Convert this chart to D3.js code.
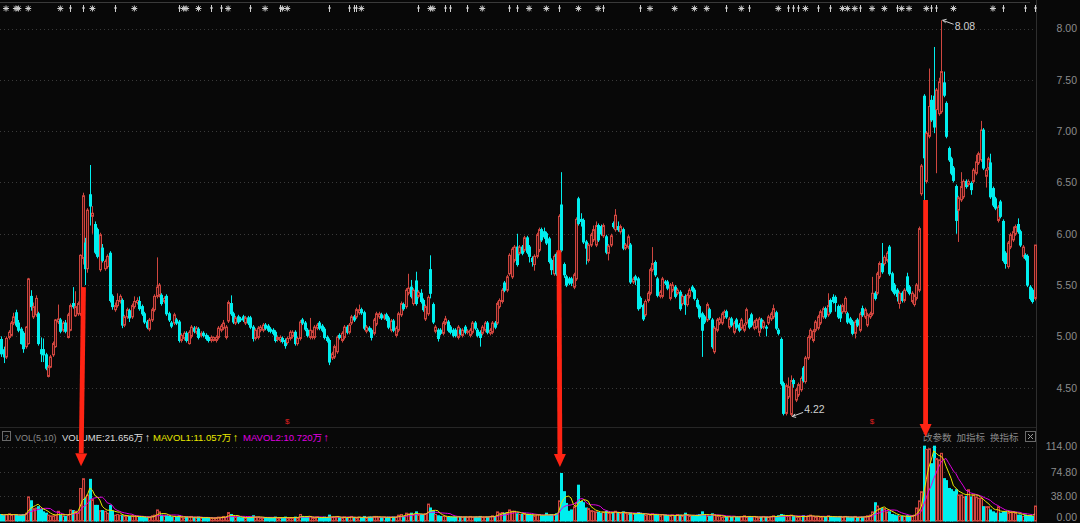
<!DOCTYPE html>
<html><head><meta charset="utf-8">
<script src="https://cdn.jsdelivr.net/npm/d3@7"></script>
<style>
html,body{margin:0;padding:0;background:#080808;overflow:hidden;}
svg{display:block;}
</style></head><body>
<svg id="c" width="1080" height="523"></svg>
<script>
// ---------------- data ----------------
const opens = [
4.97,4.87,4.80,4.99,5.01,5.13,5.23,5.13,5.07,5.03,
4.90,4.93,5.39,5.19,5.21,5.22,4.87,4.87,4.82,4.61,
4.70,4.82,4.90,5.14,5.16,5.06,5.13,4.99,5.06,5.32,
5.20,5.22,5.22,5.76,5.91,5.66,6.38,6.17,6.09,6.04,
5.65,5.86,5.66,5.68,5.81,5.39,5.26,5.30,5.34,5.35,
5.11,5.19,5.25,5.19,5.29,5.33,
5.34,5.29,5.22,5.14,5.07,
5.16,5.26,5.39,5.40,5.40,5.34,5.39,5.22,5.13,5.13,
5.16,5.14,4.96,4.98,5.03,4.93,5.00,5.08,5.04,5.07,
5.01,5.03,5.01,
4.99,4.96,4.96,4.96,4.99,5.06,5.08,4.99,
5.15,5.32,5.22,5.13,5.19,5.17,5.19,5.13,5.18,5.18,
5.09,4.98,4.99,5.06,5.06,5.11,5.10,
5.07,5.06,5.04,4.97,
4.96,4.98,4.96,4.94,4.98,5.00,5.04,
4.93,4.98,5.16,5.13,5.06,4.99,4.99,4.99,5.08,5.13,
5.10,5.07,4.99,4.96,4.79,4.80,4.85,5.01,4.96,4.99,
5.09,5.04,5.13,5.19,5.19,5.23,5.26,5.23,5.05,5.08,
5.06,5.03,5.12,5.19,5.21,5.18,
5.21,5.18,5.06,5.15,5.01,
5.06,5.21,5.31,5.29,5.42,5.48,5.32,5.54,5.39,5.42,
5.35,5.17,5.22,5.65,5.31,5.05,5.06,5.06,5.03,5.13,
5.14,5.09,5.06,5.06,4.99,5.06,5.01,5.09,5.04,
5.01,5.04,
5.13,5.06,5.04,5.03,5.06,5.13,5.03,5.04,5.13,5.13,
5.29,5.34,5.52,5.45,5.61,5.58,5.74,5.87,5.81,5.87,
5.84,5.96,5.87,5.76,5.70,5.78,5.84,
6.04,6.02,6.00,5.95,5.74,5.61,5.80,5.60,6.28,5.70,
5.58,5.56,5.56,5.48,5.56,6.34,6.14,6.13,5.92,5.74,
5.89,5.94,5.89,6.08,6.07,5.98,5.97,5.81,5.89,
6.10,6.04,6.07,6.02,6.04,5.86,5.87,5.89,5.53,5.58,
5.56,5.37,5.30,5.21,5.35,5.42,5.65,5.72,5.56,5.39,
5.39,5.53,5.53,5.37,5.45,5.48,5.42,5.43,5.32,
5.39,5.31,5.39,5.48,5.45,5.35,5.29,5.22,5.19,5.16,
5.26,5.16,4.85,5.06,5.13,5.13,5.19,5.24,5.09,5.17,
5.04,5.16,5.11,5.08,5.06,5.13,5.16,5.21,5.08,5.09,
5.04,5.16,5.09,5.09,5.13,5.17,5.19,5.23,5.06,4.97,
4.54,4.25,4.41,4.24,4.57,4.38,4.43,4.48,4.69,4.56,
4.79,4.99,
4.96,5.06,5.08,5.13,5.19,5.27,5.21,5.35,5.38,5.38,
5.29,5.29,5.24,5.24,5.22,5.17,5.14,5.03,5.16,
5.06,5.27,5.19,5.11,5.19,5.22,5.42,5.42,5.58,5.71,
5.71,5.74,5.87,5.61,5.50,5.45,5.32,5.42,5.35,
5.58,5.48,5.34,5.31,5.37,5.45,6.39,7.34,6.51,6.95,
7.30,7.34,7.21,7.17,7.19,7.47,7.27,6.83,6.73,6.64,
6.46,6.23,6.33,6.36,6.51,6.48,6.49,6.51,6.59,6.69,
6.72,7.01,6.56,6.64,6.69,6.44,6.34,6.13,6.31,6.12,
5.81,5.68,5.87,5.94,6.00,6.09,6.02,5.78,5.79,
5.78,5.48,5.45,5.37];
const highs = [
5.00,4.90,5.00,5.06,5.15,5.23,5.26,5.16,5.09,5.05,
5.10,5.57,5.45,5.33,5.40,5.24,4.99,4.98,4.84,4.72,
4.82,4.95,5.17,5.31,5.18,5.15,5.16,5.23,5.32,5.48,
5.44,5.34,5.80,6.40,5.96,6.25,6.67,6.27,6.12,6.06,
6.01,5.90,5.75,5.80,5.83,5.41,5.33,5.42,5.41,5.37,
5.21,5.28,5.27,5.32,5.39,5.38,
5.39,5.31,5.24,5.16,5.18,
5.28,5.41,5.77,5.52,5.42,5.39,5.41,5.24,5.15,5.23,
5.18,5.16,5.03,5.05,5.05,5.06,5.11,5.10,5.10,5.09,
5.05,5.05,5.03,
5.01,5.01,5.00,5.01,5.10,5.12,5.16,5.11,
5.35,5.40,5.24,5.20,5.21,5.19,5.21,5.20,5.20,5.20,
5.11,5.08,5.10,5.11,5.13,5.13,5.12,
5.09,5.08,5.06,5.01,
5.01,5.00,4.98,5.00,5.06,5.06,5.06,
5.00,5.16,5.18,5.15,5.08,5.18,5.06,5.11,5.13,5.15,
5.12,5.09,5.01,4.98,4.85,4.92,5.01,5.03,5.05,5.11,
5.11,5.13,5.21,5.21,5.28,5.31,5.28,5.25,5.11,5.10,
5.08,5.18,5.24,5.24,5.23,5.22,
5.23,5.20,5.17,5.17,5.10,
5.24,5.34,5.33,5.47,5.61,5.55,5.47,5.63,5.45,5.46,
5.37,5.31,5.40,5.79,5.33,5.11,5.08,5.08,5.15,5.20,
5.16,5.11,5.08,5.08,5.11,5.08,5.08,5.11,5.07,
5.08,5.15,
5.15,5.08,5.06,5.11,5.15,5.15,5.08,5.15,5.15,5.34,
5.37,5.47,5.54,5.60,5.81,5.87,5.89,6.00,5.89,5.89,
5.98,5.98,5.89,5.78,5.80,6.01,6.06,
6.06,6.06,6.02,5.97,5.76,5.80,5.82,6.19,6.60,5.72,
5.60,5.58,5.58,5.62,6.16,6.36,6.20,6.15,5.94,5.91,
6.01,6.08,6.12,6.10,6.09,6.10,5.99,5.90,6.00,
6.12,6.24,6.12,6.09,6.06,5.91,5.99,5.91,5.58,5.60,
5.58,5.39,5.32,5.36,5.44,5.67,5.87,5.74,5.58,5.45,
5.58,5.55,5.55,5.52,5.53,5.50,5.47,5.45,5.41,
5.41,5.42,5.47,5.50,5.47,5.37,5.31,5.24,5.21,5.33,
5.28,5.18,5.10,5.18,5.19,5.24,5.26,5.26,5.19,5.19,
5.15,5.18,5.13,5.18,5.13,5.28,5.18,5.23,5.16,5.18,
5.19,5.18,5.16,5.11,5.21,5.24,5.31,5.25,5.08,4.99,
4.56,4.54,4.60,4.62,4.59,4.50,4.55,4.61,4.71,4.81,
5.01,5.08,
5.07,5.16,5.21,5.26,5.29,5.29,5.42,5.37,5.41,5.40,
5.31,5.31,5.32,5.39,5.24,5.19,5.16,5.16,5.18,
5.24,5.30,5.28,5.23,5.24,5.58,5.44,5.63,5.73,5.91,
5.79,5.83,5.89,5.63,5.52,5.47,5.44,5.44,5.47,
5.62,5.50,5.44,5.41,5.52,6.07,6.68,7.36,7.00,7.61,
7.35,7.82,7.42,7.52,8.08,7.58,7.29,6.85,6.75,6.66,
6.48,6.37,6.60,6.53,6.53,6.53,6.51,6.64,6.77,6.80,
7.10,7.03,6.64,6.75,6.78,6.46,6.36,6.28,6.33,6.14,
5.83,5.93,6.01,6.07,6.09,6.15,6.04,5.89,5.81,
5.80,5.50,5.47,5.89];
const lows = [
4.80,4.74,4.78,4.97,5.00,5.11,5.09,5.04,4.92,4.84,
4.88,4.92,5.25,5.17,5.19,4.91,4.75,4.75,4.67,4.60,
4.69,4.80,4.89,5.12,5.03,5.04,5.03,4.98,5.05,5.27,
5.19,5.20,5.20,5.70,5.50,5.62,6.08,6.00,5.80,5.76,
5.63,5.72,5.64,5.66,5.33,5.26,5.24,5.28,5.32,5.08,
5.09,5.17,5.14,5.17,5.27,5.31,
5.25,5.20,5.12,5.07,5.05,
5.14,5.24,5.37,5.38,5.30,5.32,5.20,5.14,5.08,5.11,
5.11,4.94,4.94,4.96,4.94,4.92,4.98,5.03,5.02,4.97,
4.99,4.99,4.96,
4.94,4.94,4.95,4.94,4.97,5.04,5.06,4.97,
5.13,5.20,5.12,5.11,5.12,5.14,5.14,5.11,5.11,5.07,
4.95,4.96,4.97,5.04,5.04,5.06,5.04,
5.03,5.01,4.94,4.95,
4.94,4.93,4.88,4.92,4.96,4.98,4.91,
4.91,4.96,5.11,5.05,4.99,4.97,4.97,4.97,5.06,5.06,
5.04,4.97,4.94,4.72,4.77,4.78,4.83,4.97,4.94,4.97,
5.02,5.02,5.11,5.14,5.17,5.21,5.21,5.06,5.03,5.04,
4.96,5.01,5.10,5.17,5.16,5.16,
5.15,5.07,5.04,5.04,4.99,
5.04,5.19,5.25,5.27,5.40,5.37,5.30,5.30,5.37,5.32,
5.24,5.15,5.20,5.37,5.12,5.03,4.95,5.01,5.01,5.11,
5.04,5.02,4.99,4.99,4.97,5.01,4.99,5.02,5.02,
4.99,5.02,
5.06,4.99,4.90,5.01,5.04,5.02,5.01,5.02,5.07,5.11,
5.27,5.32,5.43,5.43,5.59,5.56,5.72,5.68,5.79,5.79,
5.82,5.80,5.72,5.68,5.64,5.76,5.82,
5.92,5.95,5.89,5.71,5.60,5.59,5.59,5.58,5.82,5.57,
5.48,5.50,5.49,5.46,5.54,6.08,6.07,5.90,5.70,5.72,
5.87,5.92,5.87,5.92,5.98,5.96,5.80,5.74,5.87,
6.05,6.02,6.02,6.00,5.84,5.84,5.85,5.51,5.51,5.50,
5.25,5.27,5.15,5.19,5.33,5.40,5.63,5.58,5.38,5.37,
5.37,5.50,5.45,5.35,5.43,5.37,5.40,5.25,5.30,
5.21,5.29,5.37,5.43,5.35,5.27,5.17,4.80,5.12,5.14,
5.16,4.88,4.83,5.04,5.11,5.11,5.17,5.17,5.07,5.09,
5.02,5.07,5.04,5.06,5.04,5.11,5.07,5.09,5.06,5.07,
5.00,5.07,5.07,5.00,5.11,5.15,5.17,5.06,5.01,4.52,
4.23,4.23,4.39,4.22,4.50,4.36,4.41,4.46,4.55,4.54,
4.77,4.97,
4.94,5.04,5.06,5.11,5.17,5.17,5.19,5.22,5.32,5.24,
5.17,5.14,5.22,5.22,5.12,5.11,5.01,4.98,5.09,
5.04,5.19,5.17,5.09,5.17,5.20,5.35,5.40,5.56,5.61,
5.69,5.72,5.59,5.43,5.40,5.34,5.27,5.33,5.33,
5.43,5.40,5.32,5.29,5.35,5.43,6.37,6.33,6.49,6.93,
7.09,6.98,6.59,7.15,7.17,7.33,6.93,6.70,6.57,6.50,
6.00,5.92,6.31,6.34,6.44,6.46,6.38,6.49,6.57,6.67,
6.70,6.62,6.45,6.62,6.34,6.26,6.23,6.11,6.15,5.72,
5.66,5.66,5.85,5.92,5.98,6.00,5.87,5.76,5.74,
5.48,5.35,5.32,5.35];
const closes = [
4.83,4.80,4.98,5.04,5.13,5.19,5.11,5.06,4.93,4.88,
5.09,5.56,5.29,5.29,5.37,4.93,4.83,4.82,4.69,4.70,
4.80,4.93,5.16,5.17,5.05,5.13,5.05,5.21,5.30,5.29,
5.29,5.32,5.79,6.37,5.66,6.23,6.27,6.20,5.82,5.78,
5.99,5.74,5.73,5.78,5.35,5.29,5.30,5.35,5.39,5.11,
5.19,5.26,5.18,5.30,5.34,5.35,
5.27,5.22,5.14,5.09,5.16,
5.26,5.39,5.48,5.50,5.32,5.37,5.22,5.16,5.10,5.21,
5.13,4.96,5.01,5.03,4.96,5.04,5.09,5.05,5.08,4.99,
5.03,5.01,4.98,
4.96,4.99,4.99,4.99,5.08,5.10,5.13,5.09,
5.33,5.22,5.14,5.18,5.14,5.16,5.16,5.18,5.13,5.09,
4.98,5.06,5.08,5.09,5.11,5.08,5.06,
5.05,5.03,4.96,4.99,
4.99,4.95,4.91,4.98,5.04,5.04,4.93,
4.98,5.14,5.13,5.07,5.01,5.06,5.04,5.09,5.11,5.08,
5.06,4.99,4.96,4.75,4.83,4.90,4.99,4.99,5.03,5.09,
5.04,5.11,5.19,5.16,5.26,5.26,5.23,5.08,5.09,5.06,
4.99,5.16,5.22,5.22,5.18,5.20,
5.17,5.09,5.15,5.06,5.08,
5.22,5.32,5.27,5.45,5.47,5.39,5.45,5.32,5.43,5.34,
5.26,5.29,5.38,5.42,5.14,5.09,4.98,5.03,5.13,5.17,
5.06,5.04,5.01,5.01,5.09,5.03,5.06,5.04,5.05,
5.06,5.13,
5.08,5.01,4.99,5.09,5.13,5.04,5.06,5.13,5.09,5.32,
5.35,5.45,5.45,5.58,5.79,5.85,5.87,5.70,5.87,5.81,
5.96,5.82,5.78,5.73,5.78,5.99,6.04,
5.94,5.97,5.91,5.73,5.65,5.78,5.61,6.17,5.84,5.60,
5.50,5.52,5.52,5.60,6.14,6.10,6.12,5.92,5.86,5.89,
5.99,6.04,6.08,5.94,6.00,6.08,5.82,5.88,5.98,
6.07,6.18,6.04,6.07,5.86,5.89,5.97,5.53,5.56,5.55,
5.27,5.29,5.17,5.34,5.42,5.65,5.71,5.60,5.40,5.43,
5.56,5.52,5.47,5.50,5.50,5.39,5.45,5.27,5.39,
5.31,5.40,5.45,5.45,5.37,5.29,5.19,5.06,5.14,5.31,
5.18,4.90,5.08,5.16,5.17,5.22,5.24,5.19,5.17,5.11,
5.13,5.09,5.06,5.16,5.11,5.26,5.09,5.11,5.14,5.16,
5.17,5.09,5.14,5.08,5.19,5.22,5.27,5.08,5.03,4.54,
4.25,4.52,4.51,4.57,4.54,4.48,4.53,4.59,4.57,4.79,
4.99,5.06,
5.05,5.14,5.19,5.24,5.27,5.19,5.30,5.24,5.34,5.33,
5.19,5.18,5.30,5.37,5.14,5.13,5.03,5.14,5.11,
5.22,5.21,5.26,5.21,5.22,5.42,5.37,5.61,5.71,5.63,
5.77,5.81,5.61,5.45,5.42,5.39,5.42,5.35,5.45,
5.45,5.42,5.42,5.39,5.50,6.05,6.66,6.74,6.98,7.24,
7.11,7.04,7.40,7.48,7.58,7.35,6.95,6.72,6.59,6.52,
6.13,6.35,6.46,6.51,6.46,6.51,6.43,6.62,6.70,6.78,
7.01,6.64,6.62,6.73,6.36,6.28,6.25,6.26,6.17,5.74,
5.71,5.91,5.99,6.02,6.07,6.02,5.89,5.87,5.76,
5.50,5.37,5.34,5.89];
// volume in 万
const volumes = [
10,9,10,11,9,10,9,8,9,10,
12,37,31,19,20,22,18,14,12,9,
8,8,9,15,9,8,7,9,17,16,
15,12,50,65,35,40,64,33,24,24,
16,16,15,12,24,15,9,10,9,8,
8,7,7,8,7,7,
6,6,6,5,6,
8,9,17,14,9,8,8,7,6,7,
6,8,6,5,6,6,7,5,5,6,
5,5,5,
5,4,4,5,6,6,7,6,
13,10,7,6,6,5,5,5,5,6,
8,6,6,5,5,5,5,
5,5,6,5,
5,5,6,5,5,5,6,
5,10,7,6,6,7,5,5,6,5,
5,6,5,9,6,6,7,5,5,6,
5,6,7,5,5,6,5,7,5,6,
6,7,7,6,5,6,
5,6,6,6,6,
9,10,7,12,11,12,10,14,9,10,
9,11,26,20,15,10,8,7,7,7,
6,6,6,6,7,6,6,6,6,
7,6,
6,6,7,6,6,6,7,8,7,14,
12,13,12,13,17,15,15,11,10,10,
11,10,9,9,8,10,10,
8,8,12,9,10,9,11,31,73,45,
27,15,17,22,28,55,30,28,20,19,
16,15,14,13,12,14,
15,13,12,13,15,13,12,14,12,11,
12,10,11,13,12,10,9,10,9,11,
10,9,8,10,9,8,8,9,8,
10,9,8,12,9,8,7,8,9,10,
14,9,8,7,11,10,8,7,6,6,
6,7,6,7,6,6,7,8,6,7,
6,7,6,5,6,7,6,6,7,8,
7,8,10,9,8,7,9,7,6,6,
7,8,7,8,9,
7,6,7,6,7,6,8,7,6,6,
6,7,6,7,6,5,6,7,5,
6,6,7,8,9,14,28,23,19,19,
19,14,14,10,9,8,7,7,7,
8,7,8,
9,20,31,45,115,110,111,88,115,96,
94,104,65,62,50,48,45,48,40,40,
37,38,48,37,40,37,35,35,22,22,
22,17,14,12,22,12,14,14,13,14,
14,12,9,9,7,9,8,8,7,
23];
const priceTicks = [4.50,5.00,5.50,6.00,6.50,7.00,7.50,8.00];
const volTicks = [0,38,74.8,114];
const starDays = [2,6,7,11,24,37,54,74,75,80,92,107,114,116,146,174,175,195,214,221,234,242,263,273,281,286,300,315,326,341,343,346,353,358,365,368,375,386,402];
const flagDays = [28,33,46,72,85,89,101,113,133,141,143,144,169,180,182,189,206,209,226,244,259,294,303,319,321,323,331,336,348,363,377,379,406,415,419];
const dividendDays = [116,353];
const headerItems = [
  {t:"VOL(5,10)", c:"#8a8a8a", x:15, fs:9},
  {t:"VOLUME:21.656万", c:"#dcdcdc", arrow:"#dcdcdc", x:62, fs:9.5},
  {t:"MAVOL1:11.057万", c:"#e8e800", arrow:"#e8e800", x:153, fs:9.5},
  {t:"MAVOL2:10.720万", c:"#e000e0", arrow:"#e000e0", x:243, fs:9.5}
];
const toolLabels = ["改参数","加指标","换指标"];
// arrows: from (day, price) down to (day, volume level)
const arrowNotes = [
  {d0:33.4, p0:5.48, d1:32.4, v1:84},
  {d0:226.1, p0:5.84, d1:226.5, v1:83},
  {d0:374.7, p0:6.33, d1:374.7, v1:129}
];

// ---------------- drawing ----------------
const W = 1080, H = 523, plotR = 1036;
const FONT = '"Liberation Sans", Arial, "Noto Sans CJK SC", sans-serif';
const svg = d3.select('#c');
svg.append('rect').attr('width', W).attr('height', H).attr('fill', '#080808');

const n = closes.length;
const x = d3.scaleBand().domain(d3.range(n)).range([0, plotR]).paddingInner(0.2).paddingOuter(0.05);
const cx = i => x(i) + x.bandwidth() / 2;
const y = d3.scaleLinear().domain([4.5, 8.0]).range([387.7, 28.5]);
const yv = d3.scaleLinear().domain([0, 114]).range([521, 446.8]);
const xd = d => { const i = Math.floor(d); return cx(i) + (d - i) * x.step(); };

const UP_S = '#cf463f', UP_F = '#3e1010', DN = '#00eeee';

// frame lines
svg.append('line').attr('x1', 0).attr('x2', 1030).attr('y1', 2.5).attr('y2', 2.5).attr('stroke', '#3a3a3a');
svg.append('line').attr('x1', plotR + 0.5).attr('x2', plotR + 0.5).attr('y1', 0).attr('y2', H).attr('stroke', '#2e2e2e');
svg.append('line').attr('x1', 0).attr('x2', plotR).attr('y1', 427.5).attr('y2', 427.5).attr('stroke', '#262626');

// grids
const grid = svg.append('g').attr('stroke', '#3a3a3a').attr('stroke-dasharray', '1,3');
grid.selectAll('.gp').data(priceTicks).join('line')
  .attr('x1', 0).attr('x2', plotR).attr('y1', d => Math.round(y(d)) + 0.5).attr('y2', d => Math.round(y(d)) + 0.5);
grid.selectAll('.gv').data(volTicks.filter(v => v > 0)).join('line')
  .attr('x1', 0).attr('x2', plotR).attr('y1', d => Math.round(yv(d)) + 0.5).attr('y2', d => Math.round(yv(d)) + 0.5);

// price axis
const ga = svg.append('g').attr('transform', `translate(${W - 3},0)`)
  .call(d3.axisLeft(y).tickValues(priceTicks).tickFormat(d3.format('.2f')).tickSize(0).tickPadding(0));
ga.select('.domain').remove();
ga.selectAll('text').attr('fill', '#8c8c8c').attr('font-size', 10.5).attr('font-family', FONT);

// volume axis
const gva = svg.append('g').attr('transform', `translate(${W - 3},0)`)
  .call(d3.axisLeft(yv).tickValues(volTicks).tickFormat(d3.format('.2f')).tickSize(0).tickPadding(0));
gva.select('.domain').remove();
gva.selectAll('text').attr('fill', '#8c8c8c').attr('font-size', 10.5).attr('font-family', FONT);
gva.selectAll('.tick').attr('transform', d => `translate(0,${Math.min(yv(d), 517.5)})`);

// candles
const idx = d3.range(n);
const up = i => closes[i] >= opens[i];
const cg = svg.append('g');
cg.selectAll('.wick').data(idx).join('line')
  .attr('x1', i => Math.round(cx(i)) + 0.5).attr('x2', i => Math.round(cx(i)) + 0.5)
  .attr('y1', i => y(highs[i])).attr('y2', i => y(lows[i]))
  .attr('stroke', i => up(i) ? UP_S : DN).attr('stroke-width', 1);
cg.selectAll('.body').data(idx).join('rect')
  .attr('x', i => Math.round(cx(i)) - 0.5)
  .attr('width', 2)
  .attr('y', i => y(Math.max(opens[i], closes[i])))
  .attr('height', i => Math.max(1, Math.abs(y(opens[i]) - y(closes[i]))))
  .attr('fill', i => up(i) ? UP_F : DN)
  .attr('stroke', i => up(i) ? UP_S : DN)
  .attr('stroke-width', 1);

// volume bars
const vg = svg.append('g');
vg.selectAll('rect').data(idx).join('rect')
  .attr('x', i => Math.round(cx(i)) - 0.5)
  .attr('width', 2)
  .attr('y', i => yv(volumes[i]))
  .attr('height', i => yv(0) - yv(volumes[i]))
  .attr('fill', i => up(i) ? UP_F : DN)
  .attr('stroke', i => up(i) ? UP_S : DN)
  .attr('stroke-width', 1);

// moving averages of volume
const ma = k => idx.map(i => d3.mean(volumes.slice(Math.max(0, i - k + 1), i + 1)));
const mline = d3.line().x((d, i) => cx(i)).y(d => yv(d));
svg.append('path').datum(ma(10)).attr('d', mline).attr('fill', 'none').attr('stroke', '#e000e0').attr('stroke-width', 1);
svg.append('path').datum(ma(5)).attr('d', mline).attr('fill', 'none').attr('stroke', '#e8e800').attr('stroke-width', 1);

// top info markers
const mk = svg.append('g').attr('stroke', '#d0d0d0').attr('stroke-width', 1);
starDays.forEach(d => {
  const g = mk.append('g').attr('transform', `translate(${cx(d)},8.5)`);
  [[-3,0,3,0],[0,-3,0,3],[-2.2,-2.2,2.2,2.2],[-2.2,2.2,2.2,-2.2]].forEach(s =>
    g.append('line').attr('x1', s[0]).attr('y1', s[1]).attr('x2', s[2]).attr('y2', s[3]));
});
flagDays.forEach(d => {
  const g = mk.append('g').attr('transform', `translate(${Math.round(cx(d)) + 0.5},8.5)`);
  g.append('line').attr('x1', 0).attr('x2', 0).attr('y1', -3.5).attr('y2', 3.5);
  g.append('line').attr('x1', -1.5).attr('x2', 1.5).attr('y1', -0.5).attr('y2', -0.5);
});

// dividend markers
svg.selectAll('.div').data(dividendDays).join('text')
  .attr('x', d => cx(d)).attr('y', 424).attr('text-anchor', 'middle')
  .attr('fill', '#e02020').attr('font-size', 8).attr('font-family', FONT).text('$');

// header
const hg = svg.append('g').attr('font-family', FONT).attr('font-size', 9.5);
hg.append('rect').attr('x', 2.5).attr('y', 431.5).attr('width', 8).attr('height', 9).attr('fill', 'none').attr('stroke', '#6a6a6a');
hg.append('text').attr('x', 6.5).attr('y', 439.5).attr('text-anchor', 'middle').attr('fill', '#9a9a9a').attr('font-size', 8).text('?');
headerItems.forEach(it => {
  const t = hg.append('text').attr('x', it.x).attr('y', 440.5).attr('fill', it.c).attr('font-size', it.fs).text(it.t);
  const w = t.node().getComputedTextLength();
  if (it.arrow) {
    hg.append('text').attr('x', it.x + w + 1.5).attr('y', 441).attr('fill', it.arrow).attr('font-size', 11).text('↑');
  }
});
let tx = 923;
toolLabels.forEach(s => {
  const t = hg.append('text').attr('x', tx).attr('y', 440.5).attr('fill', '#8a8a8a').attr('font-size', 9.5)
    .attr('font-family', '"Noto Sans CJK SC", sans-serif').text(s);
  tx += t.node().getComputedTextLength() + 5;
});
hg.append('rect').attr('x', 1025.5).attr('y', 431.5).attr('width', 10).attr('height', 10).attr('fill', 'none').attr('stroke', '#6a6a6a');
hg.append('path').attr('d', 'M1028 434 L1033 439 M1033 434 L1028 439').attr('stroke', '#9a9a9a');

// max / min labels
const iMax = d3.maxIndex(highs), iMin = d3.minIndex(lows);
const lab = svg.append('g').attr('font-family', FONT).attr('font-size', 10.5).attr('fill', '#d0d0d0');
{
  const px = cx(iMax) + 1.5, py = y(highs[iMax]);
  lab.append('path').attr('d', `M${px} ${py} L${px + 11} ${py + 4}`).attr('stroke', '#d0d0d0').attr('fill', 'none');
  lab.append('path').attr('d', `M${px + 4} ${py - 1} L${px} ${py} L${px + 3} ${py + 2.5}`).attr('stroke', '#d0d0d0').attr('fill', 'none');
  lab.append('text').attr('x', px + 12).attr('y', py + 10).text(d3.format('.2f')(highs[iMax]));
}
{
  const px = cx(iMin) + 1.5, py = y(lows[iMin]);
  lab.append('path').attr('d', `M${px} ${py} L${px + 11} ${py - 4}`).attr('stroke', '#d0d0d0').attr('fill', 'none');
  lab.append('path').attr('d', `M${px + 4} ${py + 1} L${px} ${py} L${px + 3} ${py - 2.5}`).attr('stroke', '#d0d0d0').attr('fill', 'none');
  lab.append('text').attr('x', px + 12).attr('y', py - 3).text(d3.format('.2f')(lows[iMin]));
}

// red arrows
const ag = svg.append('g');
arrowNotes.forEach(a => {
  const x0 = xd(a.d0), y0 = y(a.p0), x1 = xd(a.d1), y1 = yv(a.v1);
  const hh = 13, hw = 6;
  const ang = Math.atan2(y1 - y0, x1 - x0);
  const bx = x1 - hh * Math.cos(ang), by = y1 - hh * Math.sin(ang);
  const nx = -Math.sin(ang), ny = Math.cos(ang);
  ag.append('line').attr('x1', x0).attr('y1', y0).attr('x2', bx).attr('y2', by)
    .attr('stroke', '#ff2414').attr('stroke-width', 4.8);
  ag.append('path').attr('d', `M${bx + nx * hw} ${by + ny * hw} L${x1} ${y1} L${bx - nx * hw} ${by - ny * hw} Z`)
    .attr('fill', '#ff2414');
});
</script>
</body></html>
